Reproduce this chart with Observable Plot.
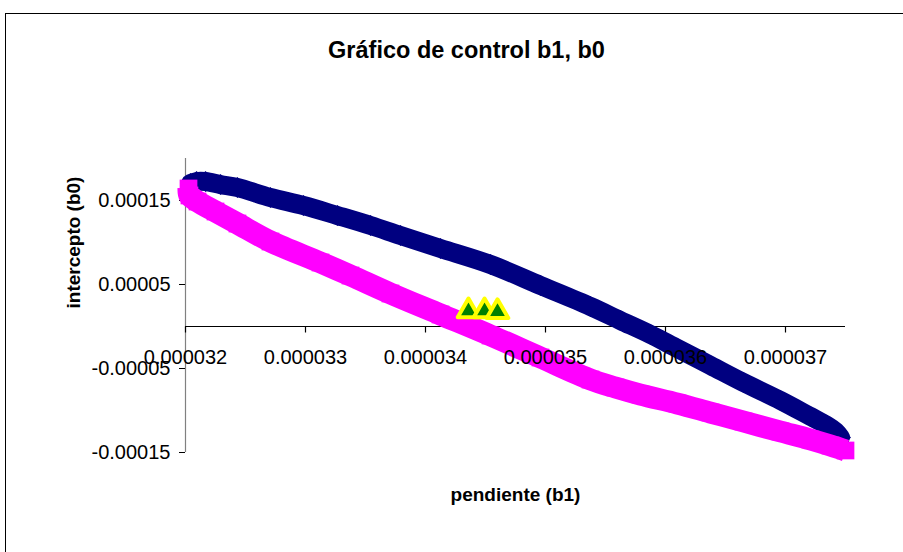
<!DOCTYPE html>
<html><head><meta charset="utf-8">
<script src="https://cdn.jsdelivr.net/npm/d3@7"></script>
<script src="https://cdn.jsdelivr.net/npm/@observablehq/plot@0.6"></script>
<style>
html,body{margin:0;padding:0;overflow:hidden;background:#fff;width:903px;height:552px}
#frame{position:absolute;left:5px;top:13px;width:930px;height:600px;border:1px solid #000;box-sizing:border-box}
#chart{position:absolute;left:0;top:0}
</style></head><body>
<div id="frame"></div><div id="chart"></div>
<script>
// Upper half of the control ellipse (navy diamonds)
const upperB1 = [3.2042e-5, 3.2092e-5, 3.2167e-5, 3.2292e-5, 3.2433e-5, 3.2708e-5, 3.2983e-5, 3.3267e-5, 3.3542e-5, 3.3792e-5, 3.4125e-5, 3.4542e-5, 3.4958e-5, 3.5375e-5, 3.5625e-5, 3.5875e-5, 3.6100e-5, 3.6375e-5, 3.6650e-5, 3.6958e-5, 3.7208e-5, 3.7333e-5, 3.7417e-5, 3.7458e-5];
const upperB0 = [1.702e-4, 1.726e-4, 1.726e-4, 1.690e-4, 1.655e-4, 1.536e-4, 1.440e-4, 1.321e-4, 1.202e-4, 1.083e-4, 0.929e-4, 0.738e-4, 0.488e-4, 0.238e-4, 0.071e-4, -0.095e-4, -0.262e-4, -0.464e-4, -0.667e-4, -0.881e-4, -1.071e-4, -1.167e-4, -1.250e-4, -1.321e-4];
// Lower half of the control ellipse (magenta squares)
const lowerB1 = [3.2025e-5, 3.2033e-5, 3.2100e-5, 3.2250e-5, 3.2433e-5, 3.2708e-5, 3.3125e-5, 3.3375e-5, 3.3708e-5, 3.4125e-5, 3.4542e-5, 3.4958e-5, 3.5375e-5, 3.5583e-5, 3.5792e-5, 3.6100e-5, 3.6375e-5, 3.6650e-5, 3.6958e-5, 3.7208e-5, 3.7375e-5, 3.7500e-5];
const lowerB0 = [1.643e-4, 1.560e-4, 1.488e-4, 1.369e-4, 1.226e-4, 1.012e-4, 0.762e-4, 0.607e-4, 0.393e-4, 0.143e-4, -0.107e-4, -0.369e-4, -0.631e-4, -0.726e-4, -0.810e-4, -0.917e-4, -1.024e-4, -1.131e-4, -1.250e-4, -1.345e-4, -1.417e-4, -1.476e-4];
// Observed (b1, b0) points (green triangles)
const obsB1 = [3.4358e-5, 3.4492e-5, 3.4600e-5];
const obsB0 = [1.85e-5, 1.85e-5, 1.75e-5];
// Axis ticks
const xTicks = [0.000032, 0.000033, 0.000034, 0.000035, 0.000036, 0.000037];
const xTickLabels = ["0.000032", "0.000033", "0.000034", "0.000035", "0.000036", "0.000037"];
const yTicks = [0.00015, 0.00005, -0.00005, -0.00015];
const yTickLabels = ["0.00015", "0.00005", "-0.00005", "-0.00015"];
const title = "Gráfico de control b1, b0";
const xLabel = "pendiente (b1)";
const yLabel = "intercepto (b0)";

const upper = upperB1.map((b1, i) => ({b1, b0: upperB0[i]}));
const lower = lowerB1.map((b1, i) => ({b1, b0: lowerB0[i]}));
const obs = obsB1.map((b1, i) => ({b1, b0: obsB0[i]}));

const font = "'Liberation Sans', Arial, sans-serif";
const tickDown = {draw(ctx) { ctx.moveTo(0, 0); ctx.lineTo(0, 6); }};

const chart = Plot.plot({
  width: 903, height: 552,
  marginLeft: 185, marginRight: 58, marginTop: 158, marginBottom: 100,
  style: {fontFamily: font, background: "transparent", overflow: "visible", color: "#000"},
  x: {domain: [0.000032, 0.0000375], axis: null},
  y: {domain: [-0.00015, 0.0002]},
  marks: [
    Plot.ruleX([0.000032], {y1: -0.00015, y2: 0.0002, stroke: "#808080", strokeWidth: 1.2}),
    Plot.ruleY([0], {stroke: "#000", strokeWidth: 1.2}),
    Plot.axisY(yTicks, {tickSize: 6, tickPadding: 9, tickFormat: d => yTickLabels[yTicks.indexOf(d)], fontSize: 20, label: null, stroke: "#000"}),
    Plot.dot(xTicks, {x: d => d, y: 0, symbol: tickDown, fill: "none", stroke: "#000", strokeWidth: 1.2}),
    Plot.line(upper, {x: "b1", y: "b0", stroke: "#000080", strokeWidth: 19, curve: "catmull-rom", strokeLinejoin: "round"}),
    Plot.dot(upper, {x: "b1", y: "b0", symbol: "diamond2", r: 9.5, fill: "#000080"}),
    Plot.line(lower, {x: "b1", y: "b0", stroke: "#ff00ff", strokeWidth: 22, curve: "catmull-rom", strokeLinejoin: "round", strokeLinecap: "butt"}),
    Plot.dot(lower, {x: "b1", y: "b0", symbol: "square", r: 10, fill: "#ff00ff"}),
    Plot.dot(obs, {x: "b1", y: "b0", symbol: "triangle", r: 8, fill: "#008000", stroke: "#ffff00", strokeWidth: 4, strokeLinejoin: "round"}),
    Plot.text(xTicks, {x: d => d, y: 0, dy: 31, text: d => xTickLabels[xTicks.indexOf(d)], fontSize: 20, fill: "#000"}),
    Plot.text([title], {frameAnchor: "top", lineAnchor: "middle", dx: -49, dy: -108, fontSize: 23.5, fontWeight: "bold", fill: "#000"}),
    Plot.text([xLabel], {frameAnchor: "bottom", lineAnchor: "middle", dy: 42, fontSize: 19, fontWeight: "bold", fill: "#000"}),
    Plot.text([yLabel], {frameAnchor: "left", lineAnchor: "middle", dx: -112, dy: 3, rotate: -90, fontSize: 19, fontWeight: "bold", fill: "#000"})
  ]
});
document.getElementById("chart").appendChild(chart);
</script>
</body></html>
